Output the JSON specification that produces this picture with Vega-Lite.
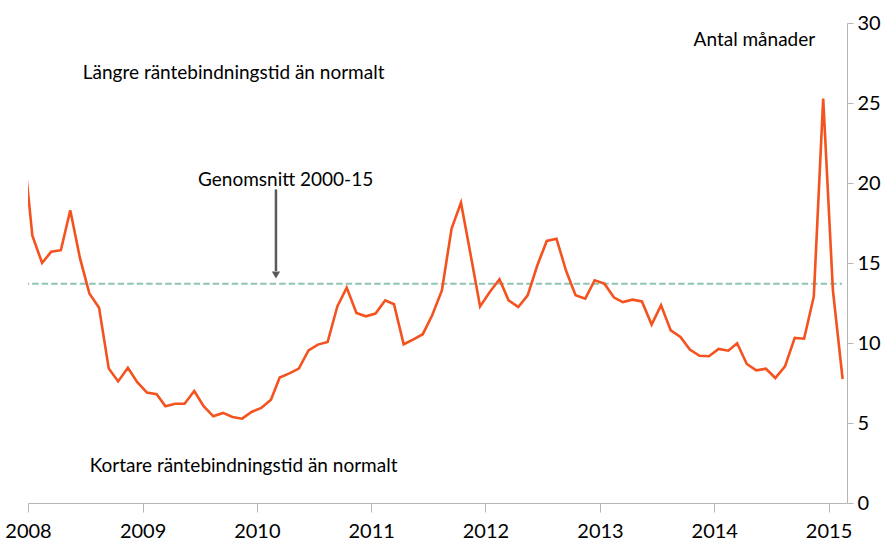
{
  "$schema": "https://vega.github.io/schema/vega-lite/v6.json",
  "width": 819,
  "height": 480,
  "autosize": "none",
  "padding": {"left": 28, "top": 23, "right": 45, "bottom": 37},
  "background": "white",
  "config": {"view": {"stroke": null}, "font": "Lato"},
  "datasets": {
    "series": [
      {"date": "2007-12-15", "value": 22.7},
      {"date": "2008-01-15", "value": 16.7},
      {"date": "2008-02-15", "value": 15.0},
      {"date": "2008-03-15", "value": 15.7},
      {"date": "2008-04-15", "value": 15.8},
      {"date": "2008-05-15", "value": 18.3},
      {"date": "2008-06-15", "value": 15.3},
      {"date": "2008-07-15", "value": 13.1},
      {"date": "2008-08-15", "value": 12.2},
      {"date": "2008-09-15", "value": 8.4},
      {"date": "2008-10-15", "value": 7.6},
      {"date": "2008-11-15", "value": 8.45},
      {"date": "2008-12-15", "value": 7.55},
      {"date": "2009-01-15", "value": 6.9},
      {"date": "2009-02-15", "value": 6.8},
      {"date": "2009-03-15", "value": 6.05},
      {"date": "2009-04-15", "value": 6.2},
      {"date": "2009-05-15", "value": 6.2},
      {"date": "2009-06-15", "value": 7.0},
      {"date": "2009-07-15", "value": 6.05},
      {"date": "2009-08-15", "value": 5.42},
      {"date": "2009-09-15", "value": 5.63},
      {"date": "2009-10-15", "value": 5.38},
      {"date": "2009-11-15", "value": 5.27},
      {"date": "2009-12-15", "value": 5.69},
      {"date": "2010-01-15", "value": 5.94},
      {"date": "2010-02-15", "value": 6.46},
      {"date": "2010-03-15", "value": 7.84},
      {"date": "2010-04-15", "value": 8.1},
      {"date": "2010-05-15", "value": 8.4},
      {"date": "2010-06-15", "value": 9.54},
      {"date": "2010-07-15", "value": 9.9},
      {"date": "2010-08-15", "value": 10.06},
      {"date": "2010-09-15", "value": 12.29},
      {"date": "2010-10-15", "value": 13.46},
      {"date": "2010-11-15", "value": 11.88},
      {"date": "2010-12-15", "value": 11.67},
      {"date": "2011-01-15", "value": 11.84},
      {"date": "2011-02-15", "value": 12.67},
      {"date": "2011-03-15", "value": 12.42},
      {"date": "2011-04-15", "value": 9.92},
      {"date": "2011-05-15", "value": 10.21},
      {"date": "2011-06-15", "value": 10.55},
      {"date": "2011-07-15", "value": 11.73},
      {"date": "2011-08-15", "value": 13.29},
      {"date": "2011-09-15", "value": 17.15},
      {"date": "2011-10-15", "value": 18.77},
      {"date": "2011-11-15", "value": 15.5},
      {"date": "2011-12-15", "value": 12.29},
      {"date": "2012-01-15", "value": 13.19},
      {"date": "2012-02-15", "value": 13.98},
      {"date": "2012-03-15", "value": 12.67},
      {"date": "2012-04-15", "value": 12.25},
      {"date": "2012-05-15", "value": 12.98},
      {"date": "2012-06-15", "value": 14.86},
      {"date": "2012-07-15", "value": 16.38},
      {"date": "2012-08-15", "value": 16.52},
      {"date": "2012-09-15", "value": 14.5},
      {"date": "2012-10-15", "value": 12.98},
      {"date": "2012-11-15", "value": 12.77},
      {"date": "2012-12-15", "value": 13.92},
      {"date": "2013-01-15", "value": 13.71},
      {"date": "2013-02-15", "value": 12.84},
      {"date": "2013-03-15", "value": 12.56},
      {"date": "2013-04-15", "value": 12.71},
      {"date": "2013-05-15", "value": 12.6},
      {"date": "2013-06-15", "value": 11.15},
      {"date": "2013-07-15", "value": 12.36},
      {"date": "2013-08-15", "value": 10.79},
      {"date": "2013-09-15", "value": 10.38},
      {"date": "2013-10-15", "value": 9.59},
      {"date": "2013-11-15", "value": 9.2},
      {"date": "2013-12-15", "value": 9.17},
      {"date": "2014-01-15", "value": 9.63},
      {"date": "2014-02-15", "value": 9.52},
      {"date": "2014-03-15", "value": 9.98},
      {"date": "2014-04-15", "value": 8.69},
      {"date": "2014-05-15", "value": 8.29},
      {"date": "2014-06-15", "value": 8.39},
      {"date": "2014-07-15", "value": 7.81},
      {"date": "2014-08-15", "value": 8.54},
      {"date": "2014-09-15", "value": 10.32},
      {"date": "2014-10-15", "value": 10.27},
      {"date": "2014-11-15", "value": 12.91},
      {"date": "2014-12-15", "value": 25.27},
      {"date": "2015-01-15", "value": 13.29},
      {"date": "2015-02-15", "value": 7.75}
    ],
    "average": [
      {"start": "2007-12-15", "end": "2015-02-13", "avg": 13.71}
    ],
    "labels": [
      {"date": "2013-10-27", "value": 28.92, "label": "Antal månader"},
      {"date": "2008-06-24", "value": 26.86, "label": "Längre räntebindningstid än normalt"},
      {"date": "2009-06-27", "value": 20.17, "label": "Genomsnitt 2000-15"},
      {"date": "2008-07-16", "value": 2.29, "label": "Kortare räntebindningstid än normalt"}
    ],
    "arrow": [
      {"date": "2010-03-03", "from": 19.6, "to": 14.5, "tip": 14.25}
    ]
  },
  "encoding": {
    "x": {
      "type": "temporal",
      "scale": {"domain": ["2008-01-01T00:00:00", "2015-03-01T00:00:00"]},
      "axis": {
        "title": null,
        "format": "%Y",
        "tickCount": {"interval": "year", "step": 1},
        "grid": false,
        "domainColor": "#b5b5b5",
        "tickColor": "#b5b5b5",
        "tickSize": 9,
        "labelPadding": 9,
        "labelFontSize": 20,
        "labelColor": "#000000",
        "labelFont": "Lato",
        "labelFlush": false,
        "labelDx": 3
      }
    }
  },
  "layer": [
    {
      "data": {"name": "average"},
      "mark": {"type": "rule", "color": "#8fc4b3", "strokeWidth": 2, "strokeDash": [6.5, 3], "clip": true},
      "encoding": {
        "x": {"field": "start", "type": "temporal"},
        "x2": {"field": "end"},
        "y": {
          "field": "avg",
          "type": "quantitative",
          "scale": {"domain": [0, 30]},
          "axis": {
            "orient": "right",
            "title": null,
            "values": [0, 5, 10, 15, 20, 25, 30],
            "grid": false,
            "domainColor": "#b5b5b5",
            "tickColor": "#b5b5b5",
            "tickSize": 6,
            "labelPadding": 4,
            "labelFontSize": 20,
            "labelColor": "#000000",
            "labelFont": "Lato"
          }
        }
      }
    },
    {
      "data": {"name": "series"},
      "mark": {"type": "line", "color": "#f4521e", "strokeWidth": 2.6, "clip": true},
      "encoding": {
        "x": {"field": "date", "type": "temporal"},
        "y": {"field": "value", "type": "quantitative"}
      }
    },
    {
      "data": {"name": "arrow"},
      "mark": {"type": "rule", "color": "#5a5a5a", "strokeWidth": 2.5},
      "encoding": {
        "x": {"field": "date", "type": "temporal"},
        "y": {"field": "from", "type": "quantitative"},
        "y2": {"field": "to"}
      }
    },
    {
      "data": {"name": "arrow"},
      "mark": {"type": "point", "shape": "triangle-down", "filled": true, "color": "#5a5a5a", "size": 70, "opacity": 1},
      "encoding": {
        "x": {"field": "date", "type": "temporal"},
        "y": {"field": "tip", "type": "quantitative"}
      }
    },
    {
      "data": {"name": "labels"},
      "mark": {"type": "text", "align": "left", "baseline": "middle", "font": "Lato", "fontSize": 19, "color": "#000000"},
      "encoding": {
        "x": {"field": "date", "type": "temporal"},
        "y": {"field": "value", "type": "quantitative"},
        "text": {"field": "label"}
      }
    }
  ]
}
